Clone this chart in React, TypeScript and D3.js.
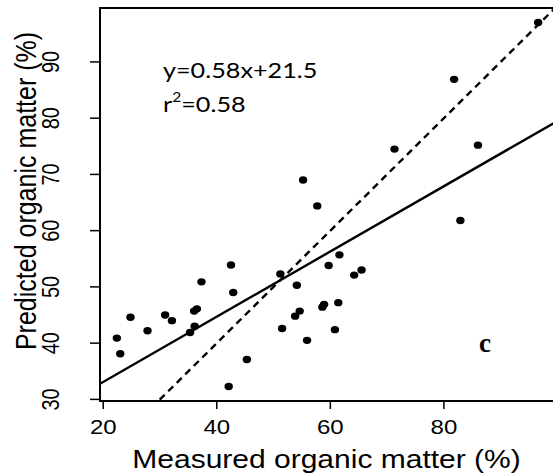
import React, { useEffect, useRef } from "react";
import * as d3 from "d3";

// measured vs predicted organic matter (%)
const measured = [22.4, 23.0, 24.8, 27.8, 30.9, 32.1, 35.3, 36.1, 36.0, 36.5, 37.3, 42.5, 42.9, 42.1, 45.3, 51.2, 51.5, 54.1, 53.8, 54.6, 55.9, 55.2, 57.7, 59.7, 61.6, 58.6, 58.9, 61.4, 60.8, 64.2, 65.5, 71.3, 81.8, 82.9, 86.0, 96.6];
const predicted = [40.9, 38.1, 44.6, 42.2, 45.0, 44.0, 41.9, 43.0, 45.7, 46.1, 50.9, 53.9, 49.0, 32.3, 37.1, 52.3, 42.6, 50.3, 44.8, 45.7, 40.5, 69.0, 64.4, 53.8, 55.7, 46.4, 46.9, 47.2, 42.4, 52.1, 53.0, 74.5, 86.9, 61.8, 75.2, 97.0];

const xTicks = [20, 40, 60, 80];
const yTicks = [30, 40, 50, 60, 70, 80, 90];

const slope = 0.58;
const intercept = 21.5;

const SX = 1.2; // the original figure is stretched horizontally

function padExtent(vals: number[]) {
  const [lo, hi] = d3.extent(vals) as [number, number];
  const p = (hi - lo) * 0.04;
  return [lo - p, hi + p];
}

export default function App() {
  const ref = useRef<SVGSVGElement>(null);

  useEffect(() => {
    const svg = d3.select(ref.current);
    svg.selectAll("*").remove();

    const left = 100, right = 555, top = 8, bottom = 401;

    const x = d3.scaleLinear().domain(padExtent(measured)).range([left, right]);
    const y = d3.scaleLinear().domain(padExtent(predicted)).range([bottom, top]);

    svg.append("clipPath").attr("id", "plotclip")
      .append("rect")
      .attr("x", left).attr("y", top)
      .attr("width", right - left).attr("height", bottom - top);

    const plot = svg.append("g").attr("clip-path", "url(#plotclip)");

    // 1:1 line
    const xd = x.domain();
    plot.append("line")
      .attr("x1", x(xd[0])).attr("y1", y(xd[0]))
      .attr("x2", x(xd[1])).attr("y2", y(xd[1]))
      .attr("stroke", "#000").attr("stroke-width", 2.4)
      .attr("stroke-dasharray", "7,5");

    // fitted line
    plot.append("line")
      .attr("x1", x(xd[0])).attr("y1", y(slope * xd[0] + intercept))
      .attr("x2", x(xd[1])).attr("y2", y(slope * xd[1] + intercept))
      .attr("stroke", "#000").attr("stroke-width", 2.4);

    plot.selectAll("ellipse")
      .data(measured.map((m, i) => [m, predicted[i]]))
      .enter()
      .append("ellipse")
      .attr("cx", (d) => x(d[0]))
      .attr("cy", (d) => y(d[1]))
      .attr("rx", 4.2)
      .attr("ry", 3.7)
      .attr("fill", "#000");

    // box
    svg.append("rect")
      .attr("x", left).attr("y", top)
      .attr("width", right - left).attr("height", bottom - top)
      .attr("fill", "none").attr("stroke", "#000").attr("stroke-width", 2);

    // x axis
    const xa = svg.append("g").attr("font-family", "'Liberation Sans', Arial, sans-serif");
    xa.selectAll("line")
      .data(xTicks).enter().append("line")
      .attr("x1", (d) => x(d)).attr("x2", (d) => x(d))
      .attr("y1", bottom).attr("y2", bottom + 8)
      .attr("stroke", "#000").attr("stroke-width", 1.5);
    xa.selectAll("text")
      .data(xTicks).enter().append("text")
      .attr("transform", (d) => `translate(${x(d)},434) scale(${SX},1)`)
      .attr("text-anchor", "middle")
      .attr("font-size", 20)
      .text((d) => d);
    xa.append("text")
      .attr("transform", `translate(${(left + right) / 2 - 1},468) scale(${SX},1)`)
      .attr("text-anchor", "middle")
      .attr("font-size", 25)
      .text("Measured organic matter (%)");

    // y axis
    const ya = svg.append("g").attr("font-family", "'Liberation Sans', Arial, sans-serif");
    ya.selectAll("line")
      .data(yTicks).enter().append("line")
      .attr("x1", left).attr("x2", left - 10)
      .attr("y1", (d) => y(d)).attr("y2", (d) => y(d))
      .attr("stroke", "#000").attr("stroke-width", 1.5);
    ya.selectAll("text")
      .data(yTicks).enter().append("text")
      .attr("transform", (d) => `translate(59,${y(d)}) scale(${SX},1) rotate(-90)`)
      .attr("text-anchor", "middle")
      .attr("font-size", 20)
      .text((d) => d);
    ya.append("text")
      .attr("transform", `translate(36,191) scale(${SX},1) rotate(-90)`)
      .attr("text-anchor", "middle")
      .attr("font-size", 25)
      .text("Predicted organic matter (%)");

    // equation
    const eq = svg.append("g").attr("font-family", "Lato, 'Open Sans', sans-serif").attr("font-size", 21);
    eq.append("text")
      .attr("transform", `translate(163,78) scale(${SX},1)`)
      .text(`y=${slope}x+${intercept}`);
    const r2 = eq.append("text").attr("transform", `translate(163,111.5) scale(${SX},1)`);
    r2.append("tspan").text("r");
    r2.append("tspan").attr("font-size", 13).attr("dy", -10).text("2");
    r2.append("tspan").attr("dy", 10).text("=0.58");

    svg.append("text")
      .attr("x", 485).attr("y", 351.5)
      .attr("text-anchor", "middle")
      .attr("font-family", "'Liberation Serif', 'Times New Roman', serif")
      .attr("font-weight", "bold")
      .attr("font-size", 27)
      .text("c");
  }, []);

  return (
    <div style={{ position: "absolute", left: 0, top: 0 }}>
      <svg ref={ref} width={553} height={476} style={{ display: "block", background: "#fff" }} />
    </div>
  );
}
